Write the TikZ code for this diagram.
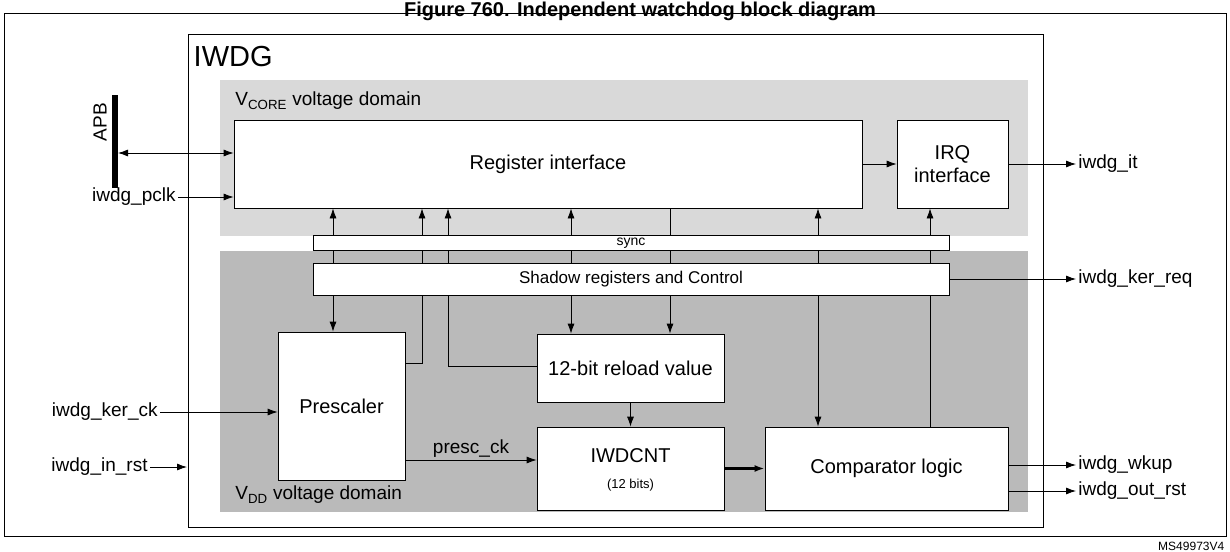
\documentclass[tikz,border=0pt]{standalone}
\usepackage{fontspec}
\setmainfont{Liberation Sans}
\usetikzlibrary{arrows.meta}
\pgfdeclarelayer{bg}
\pgfdeclarelayer{wires}
\pgfsetlayers{bg,wires,main}
\begin{document}
\begin{tikzpicture}[x=1pt,y=-1pt,>={Latex[length=10pt,width=7pt]},
    blk/.style ={draw, thick, fill=white, inner sep=0pt, font=\fontsize{20}{23}\selectfont, align=center},
    sig/.style ={font=\fontsize{19}{21}\selectfont, inner sep=2pt},
    every path/.style={thick}]
   \useasboundingbox (0,0) rectangle (1230,551);
   \node[font=\bfseries\fontsize{20}{22}\selectfont,anchor=north] (title) at (640,-2) {Figure 760. Independent watchdog block diagram};
   \begin{pgfonlayer}{bg}
   \fill[white] (4,13) rectangle (1226,536);
   \draw (4,13) rectangle (1226,536);
   \draw (188,34) rectangle (1043,527);
   \fill[black!15] (220,80) rectangle (1028,236);
   \fill[black!27] (220,251) rectangle (1028,512);
   \end{pgfonlayer}
   \node[anchor=west,font=\fontsize{29}{31}\selectfont] (iwdg) at (190,57) {IWDG};
   \node[anchor=west,sig] (vcore) at (233,101) {V\textsubscript{CORE} voltage domain};
   \node[anchor=west,sig] (vdd) at (233,495) {V\textsubscript{DD} voltage domain};
   % blocks
   \node[blk,minimum width=628pt,minimum height=88pt] (reg) at (548,164) {Register interface};
   \node[blk,minimum width=111pt,minimum height=88pt] (irq) at (952.5,164) {IRQ\\interface};
   \node[blk,minimum width=636pt,minimum height=15pt,font=\fontsize{14}{15}\selectfont] (sync) at (631,243) {sync};
   \node[blk,minimum width=636pt,minimum height=32pt,font=\fontsize{17}{19}\selectfont] (shadow) at (631,279) {Shadow registers and Control};
   \node[blk,minimum width=127pt,minimum height=148pt] (pre) at (341.5,406) {Prescaler};
   \node[blk,minimum width=187pt,minimum height=68pt] (rel) at (630.5,368) {12-bit reload value};
   \node[blk,minimum width=187pt,minimum height=83pt] (cnt) at (630.5,468.5) {};
   \node[font=\fontsize{20}{23}\selectfont] (cntt) at (630.5,456) {IWDCNT};
   \node[font=\fontsize{13}{14}\selectfont] (cntb) at (630.5,485) {(12 bits)};
   \node[blk,minimum width=243pt,minimum height=83pt] (cmp) at (886.5,468.5) {Comparator logic};
   % bus side
   \draw[line width=6pt] (115,95) -- (115,188);
   \node[sig,rotate=90] (apb) at (100,122) {APB};
   \draw[<->] (118,153) -- (reg.west |- 0,153);
   % inputs
   \node[sig,anchor=east] (pclk) at (178,197) {iwdg\_pclk};
   \draw[->] (pclk) -- (reg.west |- pclk);
   \node[sig,anchor=east] (kerck) at (160,412) {iwdg\_ker\_ck};
   \draw[->] (kerck) -- (pre.west |- kerck);
   \node[sig,anchor=east] (inrst) at (150,467) {iwdg\_in\_rst};
   \draw[->] (inrst) -- (187,467);
   % outputs
   \node[sig,anchor=west] (it) at (1076,164) {iwdg\_it};
   \node[sig,anchor=west] (kerreq) at (1076,279) {iwdg\_ker\_req};
   \node[sig,anchor=west] (wkup) at (1076,465) {iwdg\_wkup};
   \node[sig,anchor=west] (outrst) at (1076,491) {iwdg\_out\_rst};
   \draw[->] (reg) -- (irq);
   \draw[->] (irq) -- (it);
   \draw[->] (shadow) -- (kerreq);
   \draw[->] (cmp.east |- wkup) -- (wkup);
   \draw[->] (cmp.east |- outrst) -- (outrst);
   % vertical links, behind the bars
   \begin{pgfonlayer}{wires}
   \draw[->] (shadow.north -| 333,0) -- (reg.south -| 333,0);
   \draw[->] (pre.east |- 0,363) -| (reg.south -| 422,0);
   \draw[->] (rel.west |- 0,366) -| (reg.south -| 448,0);
   \draw[->] (shadow.north -| 571,0) -- (reg.south -| 571,0);
   \draw (reg.south -| 670,0) -- (shadow.south -| 670,0);
   \draw[->] (shadow.north -| 818,0) -- (reg.south -| 818,0);
   \draw[->] (cmp.north -| 930,0) -- (irq.south -| 930,0);
   \end{pgfonlayer}
   \draw[->] (shadow.south -| 333,0) -- (pre.north -| 333,0);
   \draw[->] (shadow.south -| 571,0) -- (rel.north -| 571,0);
   \draw[->] (shadow.south -| 670,0) -- (rel.north -| 670,0);
   \draw[->] (shadow.south -| 818,0) -- (cmp.north -| 818,0);
   % counter path
   \draw[->] (pre.east |- 0,460) -- node[sig,above] (presc) {presc\_ck} (cnt.west |- 0,460);
   \draw[->] (rel) -- (cnt);
   \draw[->,line width=2.5pt] (cnt) -- (cmp);
   \node[font=\fontsize{12}{13}\selectfont,anchor=east] (ms) at (1228,546) {MS49973V4};
\end{tikzpicture}
\end{document}
